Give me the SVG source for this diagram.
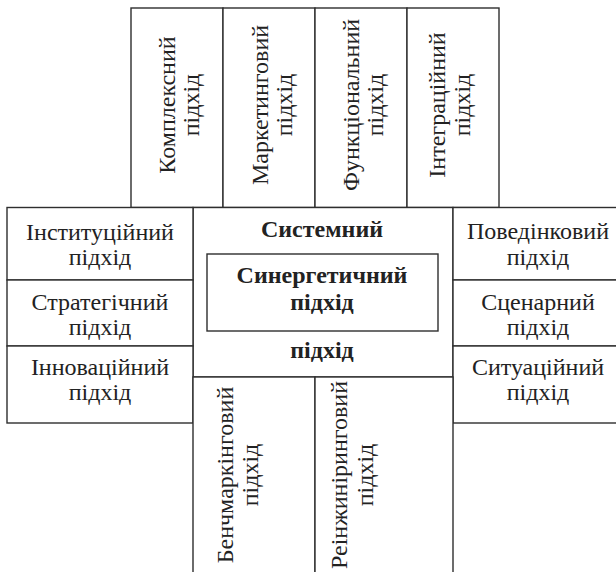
<svg xmlns="http://www.w3.org/2000/svg" width="616" height="572" viewBox="0 0 616 572">
<style>
.b{fill:#fff;stroke:#2e2e2e;stroke-width:1.4}
.t{font-family:"Liberation Serif","Times New Roman",serif;font-size:24px;fill:#222;text-anchor:middle}
.bd{font-weight:bold}
</style>
<rect x="0" y="0" width="616" height="572" fill="#fff"/>
<g id="n-complex"><rect class="b" x="131" y="8" width="92" height="199.5"/>
<g transform="translate(177,105) rotate(-90)"><text class="t" x="0" y="-2">Комплексний</text><text class="t" x="0" y="22">підхід</text></g></g>
<g id="n-marketing"><rect class="b" x="223" y="8" width="92" height="199.5"/>
<g transform="translate(269,105) rotate(-90)"><text class="t" x="0" y="-1">Маркетинговий</text><text class="t" x="0" y="23">підхід</text></g></g>
<g id="n-functional"><rect class="b" x="315" y="8" width="92" height="199.5"/>
<g transform="translate(361,105) rotate(-90)"><text class="t" x="0" y="-2">Функціональний</text><text class="t" x="0" y="22">підхід</text></g></g>
<g id="n-integration"><rect class="b" x="407" y="8" width="92" height="199.5"/>
<g transform="translate(453,105) rotate(-90)"><text class="t" x="0" y="-8">Інтеграційний</text><text class="t" x="0" y="17">підхід</text></g></g>
<g id="n-system"><rect class="b" x="193" y="207.5" width="260" height="169.5"/>
<text class="t bd" x="322" y="237">Системний</text>
<text class="t bd" x="322" y="358">підхід</text></g>
<g id="n-synergy"><rect class="b" x="207" y="254" width="231" height="77"/>
<text class="t bd" x="322" y="283">Синергетичний</text>
<text class="t bd" x="322" y="310">підхід</text></g>
<g id="n-institutional"><rect class="b" x="7" y="207.5" width="186" height="72.5"/>
<text class="t" x="100" y="239.5">Інституційний</text><text class="t" x="100" y="264.5">підхід</text></g>
<g id="n-strategic"><rect class="b" x="7" y="280" width="186" height="66"/>
<text class="t" x="100" y="310">Стратегічний</text><text class="t" x="100" y="335">підхід</text></g>
<g id="n-innovation"><rect class="b" x="7" y="346" width="186" height="77"/>
<text class="t" x="100" y="375">Інноваційний</text><text class="t" x="100" y="400">підхід</text></g>
<g id="n-behavioral"><rect class="b" x="453" y="207.5" width="170" height="72.5"/>
<text class="t" x="538" y="238.5">Поведінковий</text><text class="t" x="538" y="264.5">підхід</text></g>
<g id="n-scenario"><rect class="b" x="453" y="280" width="170" height="66"/>
<text class="t" x="538" y="310">Сценарний</text><text class="t" x="538" y="335">підхід</text></g>
<g id="n-situational"><rect class="b" x="453" y="346" width="170" height="77"/>
<text class="t" x="538" y="375">Ситуаційний</text><text class="t" x="538" y="400">підхід</text></g>
<g id="n-benchmarking"><rect class="b" x="193" y="377" width="122" height="200"/>
<g transform="translate(233,475) rotate(-90)"><text class="t" x="0" y="0">Бенчмаркінговий</text><text class="t" x="0" y="25">підхід</text></g></g>
<g id="n-reengineering"><rect class="b" x="315" y="377" width="138" height="200"/>
<g transform="translate(347,475) rotate(-90)"><text class="t" x="0" y="0">Реінжиніринговий</text><text class="t" x="0" y="26">підхід</text></g></g>
<g id="connectors"></g>
</svg>
